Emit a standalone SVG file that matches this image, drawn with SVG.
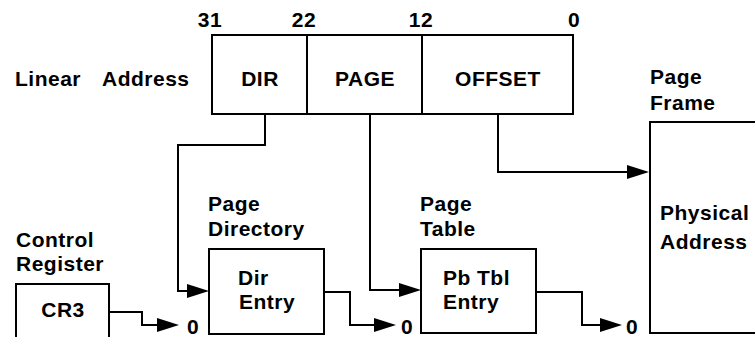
<svg xmlns="http://www.w3.org/2000/svg" width="755" height="337" viewBox="0 0 755 337">
<style>
text { font-family: "Liberation Sans", Arial, sans-serif; font-weight: bold; font-size: 21px; letter-spacing: 0.5px; fill: #000; }
.c { text-anchor: middle; }
.box { fill: #fff; stroke: #000; stroke-width: 2; }
.conn { fill: none; stroke: #000; stroke-width: 2; }
</style>
<defs>
<marker id="arr" markerUnits="userSpaceOnUse" markerWidth="24" markerHeight="16" refX="11" refY="7" orient="auto">
<path d="M0,0 L22,7 L0,14 z" fill="#000"/>
</marker>
</defs>
<rect width="755" height="337" fill="#fff"/>

<g id="linear-address">
<text x="15" y="86">Linear</text>
<text x="102" y="86">Address</text>
<text class="c" x="210" y="27">31</text>
<text class="c" x="304" y="27">22</text>
<text class="c" x="421" y="27">12</text>
<text class="c" x="574" y="27">0</text>
<rect class="box" x="212" y="35" width="361" height="79"/>
<line x1="307" y1="35" x2="307" y2="114" stroke="#000" stroke-width="2"/>
<line x1="422" y1="35" x2="422" y2="114" stroke="#000" stroke-width="2"/>
<text class="c" x="260" y="86">DIR</text>
<text class="c" x="365" y="86">PAGE</text>
<text class="c" x="498" y="86">OFFSET</text>
</g>

<g id="control-register">
<text x="16" y="247">Control</text>
<text x="16" y="271">Register</text>
<rect class="box" x="16" y="284" width="93" height="56"/>
<text class="c" x="63" y="317">CR3</text>
</g>

<g id="page-directory">
<text x="208" y="211">Page</text>
<text x="208" y="236">Directory</text>
<rect class="box" x="209" y="249" width="115" height="85"/>
<text x="238" y="285">Dir</text>
<text x="239" y="309">Entry</text>
</g>

<g id="page-table">
<text x="420" y="211">Page</text>
<text x="420" y="236">Table</text>
<rect class="box" x="421" y="249" width="115" height="84"/>
<text x="443" y="285">Pb</text>
<text x="477" y="285">Tbl</text>
<text x="443" y="309">Entry</text>
</g>

<g id="page-frame">
<text x="650" y="84">Page</text>
<text x="650" y="110">Frame</text>
<path class="conn" d="M760,122 H650 V333 H760"/>
<text x="660" y="220">Physical</text>
<text x="660" y="249">Address</text>
</g>

<g id="zero-labels">
<text x="187" y="334">0</text>
<text x="401" y="334">0</text>
<text x="626" y="334">0</text>
</g>

<g id="connectors">
<path class="conn" d="M265,114 V145 H178 V291 H198" marker-end="url(#arr)"/>
<path class="conn" d="M370,114 V290 H410" marker-end="url(#arr)"/>
<path class="conn" d="M498,114 V172 H638" marker-end="url(#arr)"/>
<path class="conn" d="M109,312 H142 V325 H168" marker-end="url(#arr)"/>
<path class="conn" d="M324,292 H350 V325 H385" marker-end="url(#arr)"/>
<path class="conn" d="M536,292 H582 V325 H611" marker-end="url(#arr)"/>
</g>
</svg>
